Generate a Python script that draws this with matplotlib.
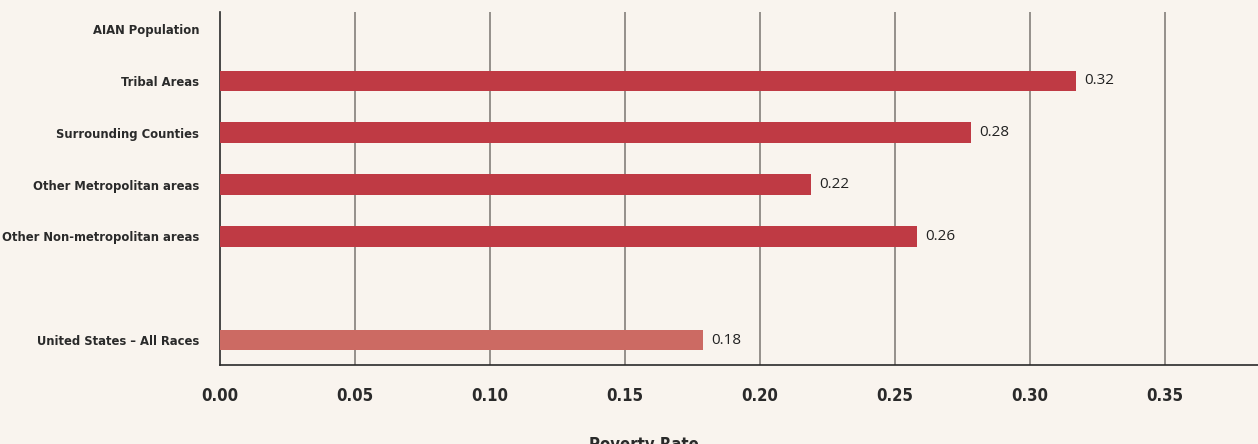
import os
import matplotlib
matplotlib.use("Agg")
import matplotlib.pyplot as plt
from matplotlib import font_manager
from matplotlib.font_manager import FontProperties

# Poverty rates by area
categories = ["AIAN Population", "Tribal Areas", "Surrounding Counties",
              "Other Metropolitan areas", "Other Non-metropolitan areas",
              "United States \u2013 All Races"]
positions = [0, 1, 2, 3, 4, 6]
bar_labels = ["Tribal Areas", "Surrounding Counties", "Other Metropolitan areas",
              "Other Non-metropolitan areas", "United States \u2013 All Races"]
rates = [0.317, 0.278, 0.219, 0.258, 0.179]
bar_colors = ["#bf3a44", "#bf3a44", "#bf3a44", "#bf3a44", "#cc6a63"]
xticks = [0.00, 0.05, 0.10, 0.15, 0.20, 0.25, 0.30, 0.35]

bg = "#f9f4ee"
ink = "#2a2a2a"

# pick the narrowest bold face that is installed
files = [f.fname for f in font_manager.fontManager.ttflist]
pick = None
for want in ["NotoSans-ExtraCondensedBold", "NotoSans-CondensedBold",
             "DejaVuSansCondensed-Bold"]:
    for fn in files:
        if os.path.basename(fn).startswith(want):
            pick = fn
            break
    if pick:
        break


def face(size):
    if pick:
        return FontProperties(fname=pick, size=size)
    return FontProperties(family="DejaVu Sans", weight="bold", size=size)


fig = plt.figure(figsize=(12.58, 4.44), dpi=100, facecolor=bg)
renderer = fig.canvas.get_renderer()


def fit(text, px, base=13.0):
    # font size at which text is px pixels wide
    t = fig.text(0, 0, text, fontproperties=face(base))
    w = t.get_window_extent(renderer).width
    t.remove()
    return base * px / w


# category names have to fit left of the axis
ylab_fp = face(min(13.0, fit("Other Non-metropolitan areas", 197)))
xlab_fp = face(12.0)

ax = fig.add_axes([220 / 1258, 79 / 444, 1 - 220 / 1258, 353 / 444])
ax.set_facecolor(bg)

pos_of = dict(zip(categories, positions))
bar_y = [pos_of[c] for c in bar_labels]
ax.barh(bar_y, rates, height=0.4, color=bar_colors, zorder=3)

for y, v in zip(bar_y, rates):
    ax.text(v + 0.003, y, f"{v:.2f}", va="center", ha="left",
            fontsize=11, family="Open Sans", color="#222222")

ax.set_xlim(0, 0.3844)
ax.set_ylim(6.48, -0.33)
ax.set_xticks(xticks)
ax.set_xticklabels([f"{t:.2f}" for t in xticks], fontproperties=xlab_fp, color=ink)
ax.set_yticks(positions)
ax.set_yticklabels(categories, fontproperties=ylab_fp, color=ink)
ax.tick_params(axis="x", length=0, pad=16)
ax.tick_params(axis="y", length=0, pad=15)

for t in xticks[1:]:
    ax.axvline(t, color="#7a7570", linewidth=1.1, zorder=1)

for s in ["top", "right"]:
    ax.spines[s].set_visible(False)
ax.spines["left"].set_color(ink)
ax.spines["bottom"].set_color(ink)
ax.spines["left"].set_linewidth(1.2)
ax.spines["bottom"].set_linewidth(1.2)

ax.set_xlabel("Poverty Rate", fontproperties=xlab_fp, color=ink)
ax.xaxis.set_label_coords((644 - 220) / 1038, -0.20)

fig.savefig("out.png", dpi=100, facecolor=bg)
